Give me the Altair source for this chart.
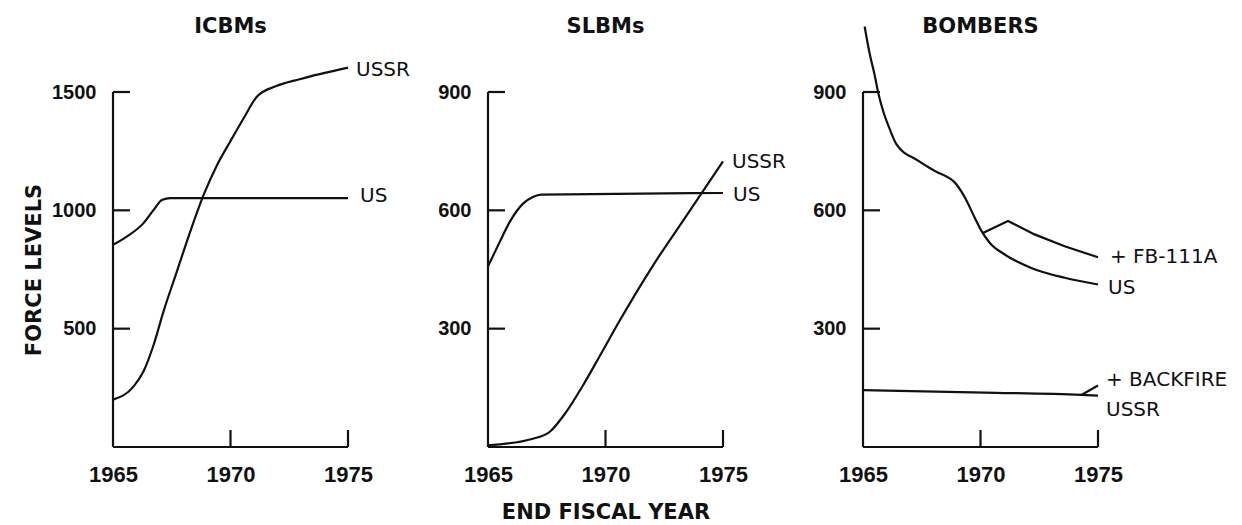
import altair as alt
import pandas as pd

# ---------------- data ----------------
x_label_years = [1965, 1970, 1975]
x_tick_years = [1970, 1975]
x_start, x_end = 1965, 1975

# ICBMs
icbm_title = "ICBMs"
icbm_y_ticks = [500, 1000, 1500]
icbm_us_year = [1965.0, 1965.6, 1966.3, 1966.73, 1967.08, 1967.44, 1975.0]
icbm_us_val = [854, 890, 946, 1002, 1044, 1052, 1052]
icbm_ussr_year = [1965.0, 1965.88, 1966.3, 1966.73, 1967.15, 1967.72, 1968.29, 1968.86,
                  1969.43, 1969.99, 1970.56, 1971.13, 1971.95, 1972.94, 1975.0]
icbm_ussr_val = [200, 256, 320, 432, 573, 742, 911, 1066, 1192, 1291, 1389, 1481, 1525,
                 1554, 1603]

# SLBMs
slbm_title = "SLBMs"
slbm_y_ticks = [300, 600, 900]
slbm_us_year = [1965.0, 1965.5, 1965.92, 1966.49, 1966.91, 1967.27, 1975.0]
slbm_us_val = [458, 520, 570, 617, 634, 640, 644]
slbm_ussr_year = [1965.0, 1966.91, 1967.62, 1968.33, 1969.04, 1969.75, 1970.6,
                  1972.02, 1973.44, 1975.0]
slbm_ussr_val = [4, 21, 38, 89, 156, 230, 320, 460, 586, 724]

# BOMBERS
bmb_title = "BOMBERS"
bmb_y_ticks = [300, 600, 900]
bmb_us_year = [1965.07, 1965.28, 1965.5, 1965.64, 1965.85, 1966.13, 1966.42, 1967.34,
               1968.05, 1968.97, 1969.33, 1969.75, 1970.04, 1970.39, 1971.03, 1972.16,
               1973.58, 1975.0]
bmb_us_val = [1066, 998, 942, 900, 853, 807, 768, 726, 700, 666, 633, 582, 548, 518,
              488, 454, 429, 412]
bmb_fb_year = [1970.08, 1971.17, 1972.3, 1973.58, 1975.0]
bmb_fb_val = [542, 573, 539, 509, 481]
bmb_ussr_year = [1965.0, 1970.18, 1974.29, 1975.0]
bmb_ussr_val = [144, 138, 132, 130]
bmb_bf_year = [1974.29, 1975.0]
bmb_bf_val = [132, 156]

y_axis_title = "FORCE LEVELS"
x_axis_title = "END FISCAL YEAR"

# ---------------- styling ----------------
NUM_FONT = "Liberation Sans"
TXT_FONT = "DejaVu Sans"
INK = "#111111"
W, H = 235, 355
TICK = 17
LW = 2.2


def series_frame(parts):
    return pd.concat(
        [pd.DataFrame({"year": y, "value": v, "series": n}) for n, y, v in parts],
        ignore_index=True,
    )


def make_panel(title, smooth, straight, y_ticks, labels, y_title=None, x_title=None):
    ymax = y_ticks[-1]
    X = alt.X(
        "year:Q",
        scale=alt.Scale(domain=[x_start, x_end], nice=False, zero=False),
        axis=alt.Axis(
            values=x_label_years, format="d", domain=False, ticks=False, grid=False,
            labelPadding=17, labelFont=NUM_FONT, labelFontSize=22, labelFontWeight="bold",
            labelColor=INK, labelFlush=False, title=x_title, titleFont=TXT_FONT,
            titleFontSize=21, titleFontWeight="bold", titleColor=INK, titlePadding=16,
        ),
    )
    Y = alt.Y(
        "value:Q",
        scale=alt.Scale(domain=[0, ymax], nice=False, zero=True),
        axis=alt.Axis(
            values=y_ticks, format="d", domain=False, ticks=False, grid=False,
            labelPadding=17, labelFont=NUM_FONT, labelFontSize=20, labelFontWeight="bold",
            labelColor=INK, labelFlush=False, title=y_title, titleFont=TXT_FONT,
            titleFontSize=21, titleFontWeight="bold", titleColor=INK, titlePadding=7,
        ),
    )
    layers = []
    layers.append(
        alt.Chart(series_frame(smooth))
        .mark_line(interpolate="monotone", color=INK, strokeWidth=LW, clip=False)
        .encode(x=X, y=Y, detail="series:N")
    )
    if straight:
        layers.append(
            alt.Chart(series_frame(straight))
            .mark_line(interpolate="linear", color=INK, strokeWidth=LW, clip=False)
            .encode(x=X, y=Y, detail="series:N")
        )
    # L-shaped frame and inward ticks
    layers.append(
        alt.Chart(pd.DataFrame({"year": [x_start], "value": [0], "value_end": [ymax]}))
        .mark_rule(color=INK, strokeWidth=LW)
        .encode(x=X, y=Y, y2="value_end:Q")
    )
    layers.append(
        alt.Chart(pd.DataFrame({"year": [x_start], "year_end": [x_end], "value": [0]}))
        .mark_rule(color=INK, strokeWidth=LW)
        .encode(x=X, x2="year_end:Q", y=Y)
    )
    layers.append(
        alt.Chart(pd.DataFrame({"value": y_ticks}))
        .mark_rule(color=INK, strokeWidth=LW)
        .encode(y=Y, x=alt.value(0), x2=alt.value(TICK))
    )
    layers.append(
        alt.Chart(pd.DataFrame({"year": x_tick_years}))
        .mark_rule(color=INK, strokeWidth=LW)
        .encode(x=X, y=alt.value(H), y2=alt.value(H - TICK))
    )
    # series labels
    for text, yr, val, dx, dy in labels:
        layers.append(
            alt.Chart(pd.DataFrame({"year": [yr], "value": [val], "label": [text]}))
            .mark_text(font=TXT_FONT, fontSize=20, color=INK, align="left",
                       baseline="middle", dx=dx, dy=dy)
            .encode(x=X, y=Y, text="label:N")
        )
    # panel title
    layers.append(
        alt.Chart(pd.DataFrame({"title": [title]}))
        .mark_text(font=TXT_FONT, fontSize=21, fontWeight="bold", color=INK,
                   align="center", baseline="alphabetic")
        .encode(x=alt.value(W / 2), y=alt.value(-59), text="title:N")
    )
    return alt.layer(*layers).properties(width=W, height=H)


icbm = make_panel(
    icbm_title,
    [("US", icbm_us_year, icbm_us_val), ("USSR", icbm_ussr_year, icbm_ussr_val)],
    [],
    icbm_y_ticks,
    [("USSR", icbm_ussr_year[-1], icbm_ussr_val[-1], 8, 2),
     ("US", icbm_us_year[-1], icbm_us_val[-1], 12, -2)],
    y_title=y_axis_title,
)
slbm = make_panel(
    slbm_title,
    [("US", slbm_us_year, slbm_us_val), ("USSR", slbm_ussr_year, slbm_ussr_val)],
    [],
    slbm_y_ticks,
    [("USSR", slbm_ussr_year[-1], slbm_ussr_val[-1], 9, 1),
     ("US", slbm_us_year[-1], slbm_us_val[-1], 10, 2)],
    x_title=x_axis_title,
)
bombers = make_panel(
    bmb_title,
    [("US", bmb_us_year, bmb_us_val), ("USSR", bmb_ussr_year, bmb_ussr_val)],
    [("FB", bmb_fb_year, bmb_fb_val), ("BF", bmb_bf_year, bmb_bf_val)],
    bmb_y_ticks,
    [("+ FB-111A", bmb_fb_year[-1], bmb_fb_val[-1], 12, 0),
     ("US", bmb_us_year[-1], bmb_us_val[-1], 10, 4),
     ("+ BACKFIRE", bmb_bf_year[-1], bmb_bf_val[-1], 8, -5),
     ("USSR", bmb_ussr_year[-1], bmb_ussr_val[-1], 8, 14)],
)

chart = (
    alt.hconcat(icbm, slbm, bombers, spacing=140, bounds="flush")
    .properties(padding={"left": 15, "top": 8, "right": 0, "bottom": 0}, background="white")
    .configure_view(stroke=None)
)

chart.save("out.html", embed_options={"renderer": "svg", "actions": False})
